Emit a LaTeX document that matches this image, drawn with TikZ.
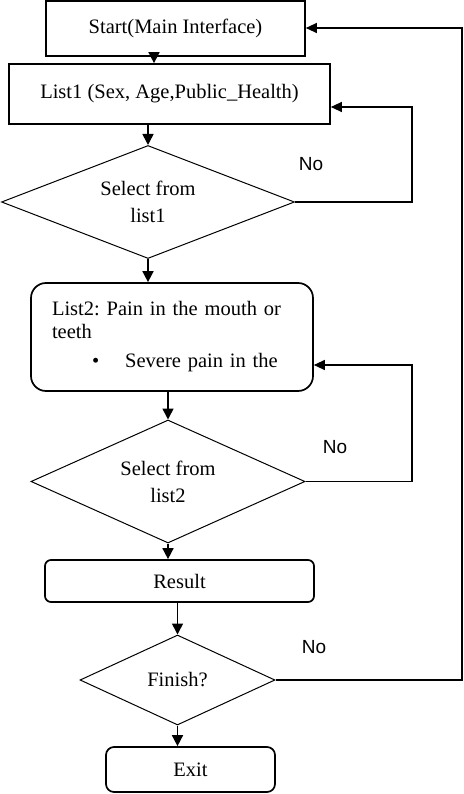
\documentclass[tikz,border=0pt]{standalone}
\usepackage{fontspec}
\setmainfont{Liberation Serif}
\newfontfamily\arialfont{Liberation Sans}
\usepackage{tikz}
\usetikzlibrary{arrows.meta, positioning, shapes.geometric, calc}
\frenchspacing

\begin{document}
\begin{tikzpicture}[x=1pt, y=-1pt,
    font=\fontsize{20.5}{27}\selectfont,
    box/.style={draw, line width=1.7pt, inner sep=0pt, align=center},
    roundbox/.style={box, rounded corners=#1},
    roundbox/.default=6pt,
    decision/.style={draw, diamond, line width=1pt, aspect=2.5, inner sep=2pt, align=center},
    flow/.style={line width=1.6pt, -{Triangle[length=11pt, width=11pt]}},
    loop/.style={line width=1.3pt, -{Triangle[length=11pt, width=10pt]}},
    nolabel/.style={font=\arialfont\fontsize{19}{21}\selectfont},
    ]
\useasboundingbox (0,0) rectangle (463,794);

% Main flow
\node[box, minimum width=259pt, minimum height=55pt] (start) at (175.5,28.5) {Start(Main Interface)};
\node[box, minimum width=321pt, minimum height=60pt] (list1) at (169.5,94) {List1 (Sex, Age,Public\_Health)};
\node[decision, minimum width=293pt, minimum height=113pt] (sel1) at (148,202) {Select from\\list1};
\node[roundbox=15pt, minimum width=282pt, minimum height=108pt, text width=240pt,
    inner xsep=21pt, align=left, font=\fontsize{20.5}{23}\selectfont] (list2) at (172,337)
    {List2: Pain in the mouth or\\teeth\\[6pt]\hspace*{40pt}\textbullet\hspace{26pt}Severe pain in the};
\node[decision, minimum width=274pt, minimum height=123pt] (sel2) at (168,481.5) {Select from\\list2};
\node[roundbox=6pt, minimum width=269pt, minimum height=42pt] (result) at (179.5,581) {Result};
\node[decision, minimum width=195pt, minimum height=90pt] (fin) at (177.5,680) {Finish?};
\node[roundbox=8pt, minimum width=169pt, minimum height=45pt] (exit) at (190.5,769.5) {Exit};

\draw[flow] ([xshift=-21.5pt]start.south) -- ([xshift=-21.5pt]start.south |- list1.north);
\draw[flow] (list1.south -| sel1.north) -- (sel1.north);
\draw[flow] (sel1.south) -- (sel1.south |- list2.north);
\draw[flow] (list2.south -| sel2.north) -- (sel2.north);
\draw[flow] (sel2.south) -- (sel2.south |- result.north);
\draw[flow] (result.south -| fin.north) -- (fin.north);
\draw[flow] (fin.south) -- (fin.south |- exit.north);

% Loops back
\coordinate (rail1) at (412,107);
\coordinate (rail2) at (412,365);
\coordinate (rail3) at (462,28);
\draw[loop] (sel1.east) -| (rail1) -- (rail1 -| list1.east);
\draw[loop] (sel2.east) -| (rail2) -- (rail2 -| list2.east);
\draw[loop] (fin.east) -| (rail3) -- (rail3 -| start.east);

\node[nolabel] (no1) at (311,164) {No};
\node[nolabel] (no2) at (335,447) {No};
\node[nolabel] (no3) at (314,647) {No};
\end{tikzpicture}
\end{document}
